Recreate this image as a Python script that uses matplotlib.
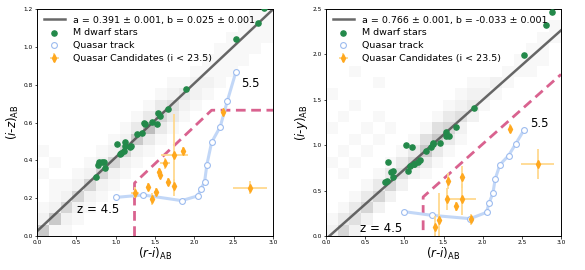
import numpy as np
import matplotlib
matplotlib.use("Agg")
import matplotlib.pyplot as plt

# --- data ---
# M dwarf stars (same r-i for both panels)
mdwarf_ri = [0.75, 0.78, 0.79, 0.83, 0.855, 0.86, 1.02, 1.05, 1.07, 1.10, 1.12, 1.12, 1.18, 1.20,
             1.27, 1.335, 1.36, 1.37, 1.46, 1.53, 1.535, 1.57, 1.66, 1.89, 2.525, 2.81, 2.89]
mdwarf_iz = [0.31, 0.377, 0.39, 0.393, 0.393, 0.36, 0.486, 0.433, 0.44, 0.447, 0.495, 0.476, 0.47, 0.476,
             0.537, 0.546, 0.599, 0.59, 0.601, 0.594, 0.649, 0.634, 0.673, 0.775, 1.043, 1.128, 1.205]
mdwarf_iy = [0.598, 0.61, 0.81, 0.70, 0.713, 0.65, 0.999, 0.716, 0.77, 0.984, 0.79, 0.79, 0.82, 0.837,
             0.936, 0.98, 1.013, 1.028, 1.028, 1.098, 1.145, 1.098, 1.2, 1.413, 1.99, 2.327, 2.467]

# quasar track z = 4.5 ... 5.5
track_ri = [1.0, 1.35, 1.84, 2.05, 2.08, 2.13, 2.16, 2.22, 2.33, 2.42, 2.53]
track_iz = [0.204, 0.217, 0.187, 0.213, 0.248, 0.284, 0.377, 0.495, 0.578, 0.714, 0.869]
track_iy = [0.268, 0.228, 0.191, 0.261, 0.36, 0.47, 0.628, 0.786, 0.885, 1.013, 1.171]

# quasar candidates, left panel
cand_l_x = [1.246, 1.407, 1.458, 1.509, 1.551, 1.564, 1.631, 1.665, 1.745, 1.745, 1.856, 2.36, 2.704]
cand_l_y = [0.229, 0.261, 0.196, 0.233, 0.34, 0.322, 0.384, 0.285, 0.428, 0.266, 0.451, 0.654, 0.255]
cand_l_xerr = [0.05, 0.02, 0.02, 0.02, 0.02, 0.02, 0.064, 0.02, 0.174, 0.02, 0.03, 0.02, 0.215]
cand_l_yerr = [0.03, 0.02, 0.03, 0.02, 0.02, 0.02, 0.03, 0.02, 0.215, 0.035, 0.02, 0.02, 0.035]

# quasar candidates, right panel
cand_r_x = [1.395, 1.438, 1.553, 1.54, 1.66, 1.736, 1.736, 1.85, 2.353, 2.703]
cand_r_y = [0.103, 0.176, 0.606, 0.407, 0.33, 0.653, 0.404, 0.184, 1.182, 0.793]
cand_r_xerr = [0.02, 0.02, 0.02, 0.02, 0.02, 0.02, 0.18, 0.02, 0.02, 0.21]
cand_r_yerr = [0.12, 0.3, 0.09, 0.12, 0.05, 0.12, 0.17, 0.06, 0.05, 0.17]

# linear fits
fit_l = (0.391, 0.025)
fit_r = (0.766, -0.033)

# selection cuts
cut_l_x = [1.24, 1.24, 2.22, 3.0]
cut_l_y = [0.0, 0.28, 0.665, 0.665]
cut_r_x = [1.24, 1.24, 3.0]
cut_r_y = [0.065, 0.43, 1.78]

# background star density (rows from top), 0..9
hist_left = [
    "00000000000000000011",
    "00000000000000000111",
    "00000000000000001111",
    "00000000000000011110",
    "00000000000000111100",
    "00000000000001111000",
    "00000000000112210000",
    "00000000001232100000",
    "00000000013421000000",
    "00000000135310000000",
    "00000001373100000000",
    "00000012631000000000",
    "10000125210000000000",
    "01001252100000000000",
    "10012521000000000000",
    "01125210000000000000",
    "01252100000000000000",
    "12521000000000000000",
    "26210000000000000000",
    "61100000000000000000",
]
hist_right = [
    "00000000000000000000",
    "00000000000000000001",
    "00000000000000000011",
    "00000000000000000110",
    "00000000000000001110",
    "00100000000000011100",
    "00001000000011210000",
    "10000000000122100000",
    "00100000001231000000",
    "01001000013420000000",
    "10010100145200000000",
    "00101001463100000000",
    "01010013631000000000",
    "10100135310000000000",
    "01001342100000000000",
    "00013520000000000000",
    "00135200000000000000",
    "01352000000000000000",
    "13420000000000000000",
    "25200000000000000000",
]

green = "#23894a"
blue_line = "#c2d7f7"
blue_edge = "#9dbcef"
orange = "#ffa81e"
orange_err = "#ffd98f"
pink = "#d9628f"

fig = plt.figure(figsize=(5.85, 2.7), dpi=100)
ax_l = fig.add_axes([0.0632, 0.1259, 0.4034, 0.8407])
ax_r = fig.add_axes([0.5573, 0.1259, 0.4017, 0.8407])


def draw_panel(ax, hist, ymax, y_md, y_track, cx, cy, cxe, cye, fit, cutx, cuty, ylab):
    grid = np.array([[int(c) for c in row] for row in hist])
    ax.imshow(grid, extent=[0, 3, 0, ymax], origin="upper", aspect="auto",
              cmap="Greys", vmin=0, vmax=19, interpolation="nearest", zorder=0)
    xx = np.array([0.0, 3.0])
    ax.plot(xx, fit[0] * xx + fit[1], color="#4d4d4d", alpha=0.85, lw=1.8, zorder=2,
            label="a = %.3f ± 0.001, b = %.3f ± 0.001" % fit)
    ax.scatter(mdwarf_ri, y_md, color=green, s=14, zorder=4, label="M dwarf stars")
    ax.plot(track_ri, y_track, "-", color=blue_line, lw=2.2, zorder=3)
    ax.plot(track_ri, y_track, "o", mfc="white", mec=blue_edge, mew=0.8, ms=4.2, zorder=3,
            label="Quasar track")
    ax.errorbar(cx, cy, xerr=cxe, yerr=cye, fmt="d", color=orange, ecolor=orange_err,
                elinewidth=1.3, ms=3.8, capsize=0, zorder=5,
                label="Quasar Candidates (i < 23.5)")
    ax.plot(cutx, cuty, "--", color=pink, lw=2.0, dashes=(3.5, 2), zorder=2)

    ax.set_xlim(0, 3.0)
    ax.set_ylim(0, ymax)
    ax.set_xlabel(r"$(r$-$i)_{\rm AB}$", fontsize=8.5, labelpad=1)
    ax.set_ylabel(ylab, fontsize=8.5, labelpad=2)
    ax.tick_params(labelsize=4.2, length=1.8, width=0.5, pad=1)
    for s in ax.spines.values():
        s.set_linewidth(0.7)

    h, l = ax.get_legend_handles_labels()
    ax.legend(h, l, loc="upper left", frameon=False, fontsize=6.8, handlelength=2.3,
              borderaxespad=0.3, labelspacing=0.4, handletextpad=0.8)


draw_panel(ax_l, hist_left, 1.2, mdwarf_iz, track_iz, cand_l_x, cand_l_y, cand_l_xerr, cand_l_yerr,
           fit_l, cut_l_x, cut_l_y, r"$(i$-$z)_{\rm AB}$")
ax_l.set_xticks(np.arange(0, 3.01, 0.5))
ax_l.set_yticks(np.arange(0, 1.21, 0.2))
ax_l.text(0.51, 0.12, "z = 4.5", fontsize=8.5)
ax_l.text(2.6, 0.79, "5.5", fontsize=8.5)

draw_panel(ax_r, hist_right, 2.5, mdwarf_iy, track_iy, cand_r_x, cand_r_y, cand_r_xerr, cand_r_yerr,
           fit_r, cut_r_x, cut_r_y, r"$(i$-$y)_{\rm AB}$")
ax_r.set_xticks(np.arange(0, 3.01, 0.5))
ax_r.set_yticks(np.arange(0, 2.51, 0.5))
ax_r.text(0.43, 0.045, "z = 4.5", fontsize=8.5)
ax_r.text(2.6, 1.2, "5.5", fontsize=8.5)

fig.savefig("out.png", dpi=100)
